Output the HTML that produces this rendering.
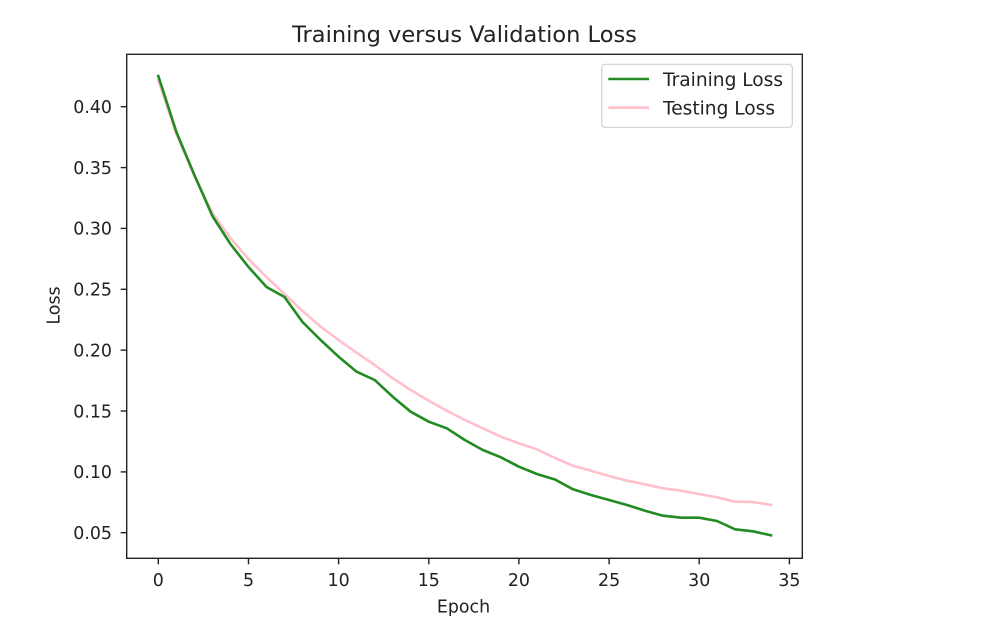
<!DOCTYPE html>
<html>
<head>
<meta charset="utf-8">
<style>
  html, body { margin: 0; padding: 0; background: #ffffff; }
  svg { display: block; }
  text { font-family: "DejaVu Sans", "Liberation Sans", sans-serif; fill: #222; }
</style>
</head>
<body>
<svg width="1000" height="642" viewBox="0 0 1000 642" xmlns="http://www.w3.org/2000/svg">
  <rect x="0" y="0" width="1000" height="642" fill="#ffffff"/>

  <!-- Title -->
  <text x="464.5" y="42" font-size="22.5" text-anchor="middle">Training versus Validation Loss</text>

  <!-- Series -->
  <polyline fill="none" stroke="#ffc0cb" stroke-width="2.6" stroke-linejoin="round" stroke-linecap="square"
    points="158.3,80 176.3,134 194.4,176 212.4,213 230.4,238 248.5,259 266.5,277 284.5,294 302.5,311 320.6,326.7 338.6,340 356.6,352.7 374.7,365 392.7,378.3 410.7,390 428.8,400.7 446.8,410.7 464.8,420 482.8,428.3 500.9,436.7 518.9,443.3 536.9,449.3 555,458 573,465.7 591,470.7 609,476 627,480.7 645,484.3 663,488.3 681,490.7 699,494 717,497.3 735,501.7 753,502 771,505"/>
  <polyline fill="none" stroke="#228b22" stroke-width="2.6" stroke-linejoin="round" stroke-linecap="square"
    points="158.3,76 176.3,131.7 194.4,175 212.4,216 230.4,244 248.5,267 266.5,287 284.5,297 302.5,322 320.6,340 338.6,356.7 356.6,371.7 374.7,380 392.7,396.7 410.7,411.7 428.8,421.7 446.8,428.3 464.8,440 482.8,450 500.9,457.3 518.9,466.7 536.9,474 555,479.5 573,489.3 591,495 609,500 627,505 645,510.7 663,515.7 681,517.7 699,517.7 717,521 735,529.3 753,531.3 771,535.3"/>

  <!-- Axes frame -->
  <rect x="126.7" y="54.3" width="675.6" height="504" fill="none" stroke="#222" stroke-width="1.4"/>

  <!-- Y ticks -->
  <g stroke="#222" stroke-width="1.4">
    <line x1="120.7" y1="106.7" x2="126.7" y2="106.7"/>
    <line x1="120.7" y1="167.6" x2="126.7" y2="167.6"/>
    <line x1="120.7" y1="228.4" x2="126.7" y2="228.4"/>
    <line x1="120.7" y1="289.3" x2="126.7" y2="289.3"/>
    <line x1="120.7" y1="350.1" x2="126.7" y2="350.1"/>
    <line x1="120.7" y1="411.0" x2="126.7" y2="411.0"/>
    <line x1="120.7" y1="471.9" x2="126.7" y2="471.9"/>
    <line x1="120.7" y1="532.7" x2="126.7" y2="532.7"/>
  </g>
  <g font-size="17.4" text-anchor="end">
    <text x="112" y="113">0.40</text>
    <text x="112" y="173.9">0.35</text>
    <text x="112" y="234.7">0.30</text>
    <text x="112" y="295.6">0.25</text>
    <text x="112" y="356.4">0.20</text>
    <text x="112" y="417.3">0.15</text>
    <text x="112" y="478.2">0.10</text>
    <text x="112" y="539">0.05</text>
  </g>

  <!-- X ticks -->
  <g stroke="#222" stroke-width="1.4">
    <line x1="158.3" y1="558.3" x2="158.3" y2="564.3"/>
    <line x1="248.5" y1="558.3" x2="248.5" y2="564.3"/>
    <line x1="338.6" y1="558.3" x2="338.6" y2="564.3"/>
    <line x1="428.8" y1="558.3" x2="428.8" y2="564.3"/>
    <line x1="518.9" y1="558.3" x2="518.9" y2="564.3"/>
    <line x1="609.1" y1="558.3" x2="609.1" y2="564.3"/>
    <line x1="699.2" y1="558.3" x2="699.2" y2="564.3"/>
    <line x1="789.4" y1="558.3" x2="789.4" y2="564.3"/>
  </g>
  <g font-size="17.4" text-anchor="middle">
    <text x="158.3" y="586">0</text>
    <text x="248.5" y="586">5</text>
    <text x="338.6" y="586">10</text>
    <text x="428.8" y="586">15</text>
    <text x="518.9" y="586">20</text>
    <text x="609.1" y="586">25</text>
    <text x="699.2" y="586">30</text>
    <text x="789.4" y="586">35</text>
  </g>

  <!-- Axis labels -->
  <text x="463.5" y="612.7" font-size="17.4" text-anchor="middle">Epoch</text>
  <text x="0" y="0" font-size="17.4" text-anchor="middle" transform="translate(59.5,305.5) rotate(-90)">Loss</text>

  <!-- Legend -->
  <rect x="601.7" y="64.3" width="190.6" height="63" rx="3.5" ry="3.5" fill="#ffffff" fill-opacity="0.8" stroke="#d0d0d0" stroke-width="1.2"/>
  <line x1="608.3" y1="79" x2="649" y2="79" stroke="#228b22" stroke-width="2.6"/>
  <text x="663" y="85.8" font-size="18.6">Training Loss</text>
  <line x1="608.3" y1="107.7" x2="649" y2="107.7" stroke="#ffc0cb" stroke-width="2.6"/>
  <text x="663" y="114.3" font-size="18.6">Testing Loss</text>
</svg>
</body>
</html>
